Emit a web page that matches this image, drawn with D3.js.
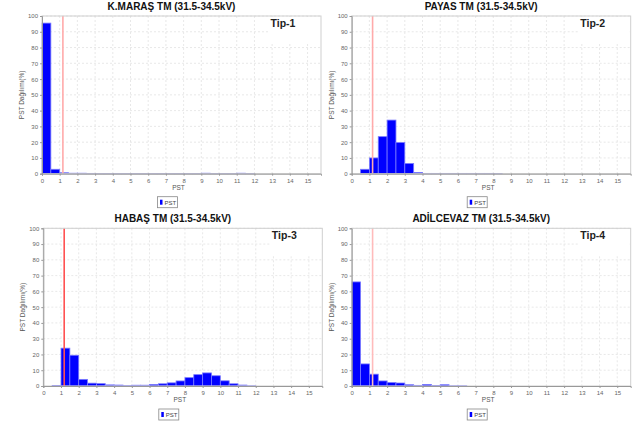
<!DOCTYPE html>
<html>
<head>
<meta charset="utf-8">
<script src="https://cdn.jsdelivr.net/npm/d3@7"></script>
<style>
  body { margin: 0; background: #fff; }
  svg { font-family: "Liberation Sans", Arial, sans-serif; }
</style>
</head>
<body>
<div id="chart"></div>
<script>
// bin starts (PST), each bin is 0.5 wide
const binStarts = [0, 0.5, 1, 1.5, 2, 2.5, 3, 3.5, 4, 4.5, 5, 5.5, 6, 6.5, 7, 7.5,
  8, 8.5, 9, 9.5, 10, 10.5, 11, 11.5];

// PST Dağılımı(%) per bin
const tip1Values = [95.5, 2.8, 0.6, 0.3, 0.3, 0.2, 0.1, 0.1, 0.1, 0.1, 0.1, 0.1,
  0.1, 0.1, 0.1, 0.1, 0.1, 0.1, 0.3, 0.1, 0.1, 0.1, 0.3, 0.1];
const tip2Values = [0, 2.8, 10, 23.5, 34, 19.8, 6.5, 0.8, 0.2, 0.2, 0.2, 0.2,
  0.2, 0.2, 0.2, 0.2, 0.1, 0, 0, 0, 0, 0, 0, 0];
const tip3Values = [0, 0.3, 24, 19.5, 4.2, 1.8, 1.5, 0.7, 0.6, 0.2, 0.5, 0.5,
  1.0, 1.4, 2.0, 3.2, 5.3, 7.2, 8.3, 6.5, 3.3, 1.4, 0.6, 0.1];
const tip4Values = [66, 14, 7.5, 3.2, 2.2, 1.9, 0.8, 0.4, 1.0, 0.3, 0.8, 0.1,
  0.1, 0, 0, 0, 0, 0, 0, 0, 0, 0, 0, 0];

const titles = ["K.MARAŞ TM (31.5-34.5kV)", "PAYAS TM (31.5-34.5kV)",
  "HABAŞ TM (31.5-34.5kV)", "ADİLCEVAZ TM (31.5-34.5kV)"];
const tipLabels = ["Tip-1", "Tip-2", "Tip-3", "Tip-4"];
const xTicks = [0, 1, 2, 3, 4, 5, 6, 7, 8, 9, 10, 11, 12, 13, 14, 15];
const yTicks = [0, 10, 20, 30, 40, 50, 60, 70, 80, 90, 100];
const limitLine = 1.18;

const width = 638;
const height = 421;

const svg = d3.select('#chart')
    .append('svg')
    .attr('width', width)
    .attr('height', height);

// panel frames: left of plot, top of plot
const panels = [
  {values: tip1Values, left: 42, top: 16, red: "#ffaaaa"},
  {values: tip2Values, left: 351.7, top: 16, red: "#ffaaaa"},
  {values: tip3Values, left: 43.3, top: 228.3, red: "#ff5050"},
  {values: tip4Values, left: 351.7, top: 228.3, red: "#ffbbbb"}
];
const plotW = 279;
const plotH = 157.7;

panels.forEach((p, i) => {
  const g = svg.append('g').attr('transform', `translate(${p.left},${p.top})`);

  const x = d3.scaleLinear().domain([0, 15.76]).range([0, plotW]);
  const y = d3.scaleLinear().domain([0, 100]).range([plotH, 0]);

  //Grid
  g.selectAll('.vgrid')
      .data(xTicks.slice(1))
      .enter()
      .append('line')
      .attr('x1', d => x(d)).attr('x2', d => x(d))
      .attr('y1', 0).attr('y2', plotH)
      .attr('stroke', '#e2e2e2')
      .attr('stroke-dasharray', '2,2')
      .attr('stroke-width', 0.8);
  g.selectAll('.hgrid')
      .data(yTicks.slice(1))
      .enter()
      .append('line')
      .attr('x1', 0).attr('x2', plotW)
      .attr('y1', d => y(d)).attr('y2', d => y(d))
      .attr('stroke', '#e2e2e2')
      .attr('stroke-dasharray', '2,2')
      .attr('stroke-width', 0.8);

  // white box behind the Tip label
  g.append('rect')
      .attr('x', plotW - 52).attr('y', 1)
      .attr('width', 51).attr('height', 26)
      .attr('fill', '#fff');

  //Bars
  g.selectAll('.bar')
      .data(binStarts.map((b, j) => ({b: b, v: p.values[j]})).filter(d => d.v > 0))
      .enter()
      .append('rect')
      .attr('x', d => x(d.b))
      .attr('y', d => y(d.v))
      .attr('width', d => x(d.b + 0.5) - x(d.b))
      .attr('height', d => plotH - y(d.v))
      .attr('fill', '#0000ff')
      .attr('stroke', '#7a7aff')
      .attr('stroke-width', 0.8);

  //Limit line
  g.append('line')
      .attr('x1', x(limitLine)).attr('x2', x(limitLine))
      .attr('y1', 0).attr('y2', plotH)
      .attr('stroke', p.red)
      .attr('stroke-width', 1.6);

  //Frame
  g.append('rect')
      .attr('width', plotW).attr('height', plotH)
      .attr('fill', 'none')
      .attr('stroke', '#cfcfcf')
      .attr('stroke-width', 1);

  //Axes
  const xAxis = g.append('g')
      .attr('transform', `translate(0,${plotH})`)
      .call(d3.axisBottom(x).tickValues(xTicks).tickSize(2).tickPadding(3));
  const yAxis = g.append('g')
      .call(d3.axisLeft(y).tickValues(yTicks).tickSize(2).tickPadding(2));
  [xAxis, yAxis].forEach(a => {
    a.select('.domain').attr('stroke', '#999');
    a.selectAll('.tick line').attr('stroke', '#999');
    a.selectAll('.tick text').attr('fill', '#666').attr('font-size', '6px')
        .attr('font-family', '"Liberation Sans", Arial, sans-serif');
  });

  //Titles
  g.append('text')
      .attr('x', plotW / 2 - 10)
      .attr('y', -6)
      .attr('text-anchor', 'middle')
      .attr('font-size', '10px')
      .attr('font-weight', 'bold')
      .attr('fill', '#111')
      .text(titles[i]);

  g.append('text')
      .attr('x', plotW - 38)
      .attr('y', 11)
      .attr('text-anchor', 'middle')
      .attr('font-size', '10.5px')
      .attr('font-weight', 'bold')
      .attr('fill', '#222')
      .text(tipLabels[i]);

  g.append('text')
      .attr('x', plotW / 2 - 3)
      .attr('y', plotH + 16)
      .attr('text-anchor', 'middle')
      .attr('font-size', '6.5px')
      .attr('fill', '#555')
      .text('PST');

  g.append('text')
      .attr('transform', `translate(-18,${plotH / 2}) rotate(-90)`)
      .attr('text-anchor', 'middle')
      .attr('font-size', '6.5px')
      .attr('fill', '#555')
      .text('PST Dağılımı(%)');

  //Legend
  const lg = g.append('g').attr('transform', `translate(${plotW / 2 - 24},${plotH + 23})`);
  lg.append('rect')
      .attr('width', 20).attr('height', 11)
      .attr('fill', '#fff')
      .attr('stroke', '#888')
      .attr('stroke-width', 0.8);
  lg.append('rect')
      .attr('x', 2.5).attr('y', 3)
      .attr('width', 2.5).attr('height', 5)
      .attr('fill', '#0000ff');
  lg.append('text')
      .attr('x', 7).attr('y', 8)
      .attr('font-size', '6px')
      .attr('fill', '#444')
      .text('PST');
});
</script>
</body>
</html>
